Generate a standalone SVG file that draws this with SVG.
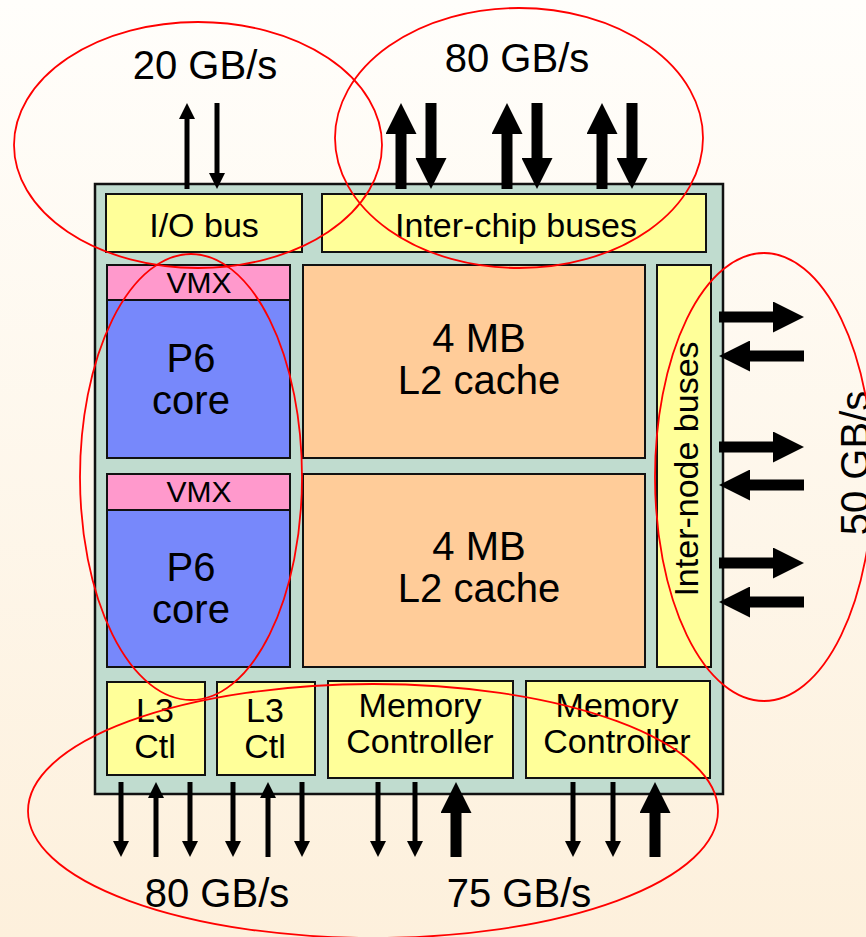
<svg xmlns="http://www.w3.org/2000/svg" width="866" height="937" viewBox="0 0 866 937">
<defs>
<linearGradient id="bg" x1="0" y1="0" x2="0" y2="1">
<stop offset="0" stop-color="#fffefb"/>
<stop offset="1" stop-color="#fdf0dc"/>
</linearGradient>
<marker id="hs" markerUnits="userSpaceOnUse" markerWidth="16" markerHeight="16" refX="1" refY="8" orient="auto" viewBox="0 0 16 16">
<path d="M0,0 L16,8 L0,16 Z" fill="#000"/>
</marker>
<marker id="hb" markerUnits="userSpaceOnUse" markerWidth="31" markerHeight="31" refX="1" refY="15.5" orient="auto" viewBox="0 0 31 31">
<path d="M0,0 L31,15.5 L0,31 Z" fill="#000"/>
</marker>
</defs>
<style>
text{font-family:"Liberation Sans",Arial,sans-serif;fill:#000;text-anchor:middle}
.t40{font-size:40px}
.t34{font-size:34px}
.t30{font-size:30px}
.box{stroke:#111;stroke-width:2}
.y{fill:#ffff99}
.pk{fill:#ff99cc}
.bl{fill:#7788fb}
.or{fill:#ffcc99}
.thin{stroke:#000;stroke-width:5;marker-end:url(#hs)}
.thick{stroke:#000;stroke-width:11;marker-end:url(#hb)}
.ring{fill:none;stroke:#ff0000;stroke-width:1.8}
</style>
<rect x="0" y="0" width="866" height="937" fill="url(#bg)"/>

<g id="chip"><rect x="95" y="184" width="628" height="610" fill="#c0dccf" stroke="#111" stroke-width="2.5"/></g>

<g id="io-bus"><rect class="box y" x="106" y="194" width="196" height="58"/><text class="t34" x="204" y="237">I/O bus</text></g>
<g id="inter-chip"><rect class="box y" x="322" y="194" width="384" height="58"/><text class="t34" x="516" y="237">Inter-chip buses</text></g>

<g id="vmx1"><rect class="box pk" x="107" y="265" width="183" height="35"/><text class="t30" x="199" y="293">VMX</text></g>
<g id="core1"><rect class="box bl" x="107" y="300" width="183" height="158"/><text class="t40" x="191" y="372">P6</text><text class="t40" x="191" y="414">core</text></g>
<g id="l2-1"><rect class="box or" x="303" y="265" width="342" height="193"/><text class="t40" x="479" y="352">4 MB</text><text class="t40" x="479" y="394">L2 cache</text></g>

<g id="vmx2"><rect class="box pk" x="107" y="474" width="183" height="36"/><text class="t30" x="199" y="502">VMX</text></g>
<g id="core2"><rect class="box bl" x="107" y="510" width="183" height="157"/><text class="t40" x="191" y="581">P6</text><text class="t40" x="191" y="623">core</text></g>
<g id="l2-2"><rect class="box or" x="303" y="474" width="342" height="193"/><text class="t40" x="479" y="560">4 MB</text><text class="t40" x="479" y="602">L2 cache</text></g>

<g id="inter-node"><rect class="box y" x="657" y="265" width="54" height="402"/><text class="t34" transform="translate(698,469) rotate(-90)">Inter-node buses</text></g>

<g id="l3-1"><rect class="box y" x="107" y="682" width="98" height="93"/><text class="t34" x="155" y="722">L3</text><text class="t34" x="155" y="758">Ctl</text></g>
<g id="l3-2"><rect class="box y" x="217" y="682" width="98" height="93"/><text class="t34" x="265" y="722">L3</text><text class="t34" x="265" y="758">Ctl</text></g>
<g id="mem1"><rect class="box y" x="328" y="681" width="185" height="97"/><text class="t34" x="420" y="717">Memory</text><text class="t34" x="420" y="753">Controller</text></g>
<g id="mem2"><rect class="box y" x="526" y="681" width="184" height="97"/><text class="t34" x="617" y="717">Memory</text><text class="t34" x="617" y="753">Controller</text></g>

<g id="connectors">
<line class="thin" x1="187" y1="189" x2="187" y2="118"/>
<line class="thin" x1="217" y1="103" x2="217" y2="174"/>
<line class="thick" x1="401" y1="189" x2="401" y2="133"/>
<line class="thick" x1="431" y1="103" x2="431" y2="159"/>
<line class="thick" x1="507" y1="189" x2="507" y2="133"/>
<line class="thick" x1="537" y1="103" x2="537" y2="159"/>
<line class="thick" x1="602" y1="189" x2="602" y2="133"/>
<line class="thick" x1="632" y1="103" x2="632" y2="159"/>
<line class="thick" x1="719" y1="317" x2="774" y2="317"/>
<line class="thick" x1="804" y1="356" x2="749" y2="356"/>
<line class="thick" x1="719" y1="447" x2="774" y2="447"/>
<line class="thick" x1="804" y1="485" x2="749" y2="485"/>
<line class="thick" x1="719" y1="563" x2="774" y2="563"/>
<line class="thick" x1="804" y1="602" x2="749" y2="602"/>
<line class="thin" x1="121" y1="782" x2="121" y2="842"/>
<line class="thin" x1="156" y1="857" x2="156" y2="797"/>
<line class="thin" x1="190" y1="782" x2="190" y2="842"/>
<line class="thin" x1="233" y1="782" x2="233" y2="842"/>
<line class="thin" x1="268" y1="857" x2="268" y2="797"/>
<line class="thin" x1="302" y1="782" x2="302" y2="842"/>
<line class="thin" x1="378" y1="782" x2="378" y2="842"/>
<line class="thin" x1="415" y1="782" x2="415" y2="842"/>
<line class="thick" x1="456" y1="857" x2="456" y2="812"/>
<line class="thin" x1="573" y1="782" x2="573" y2="842"/>
<line class="thin" x1="613" y1="782" x2="613" y2="842"/>
<line class="thick" x1="655" y1="857" x2="655" y2="812"/>
</g>

<g id="labels">
<text class="t40" x="205" y="79">20 GB/s</text>
<text class="t40" x="517" y="72">80 GB/s</text>
<text class="t40" x="217" y="907">80 GB/s</text>
<text class="t40" x="519" y="907">75 GB/s</text>
<text class="t40" transform="translate(869,463) rotate(-90)">50 GB/s</text>
</g>

<g id="rings">
<ellipse class="ring" cx="198" cy="145" rx="184" ry="123"/>
<ellipse class="ring" cx="519" cy="138" rx="184" ry="130"/>
<ellipse class="ring" cx="191" cy="477" rx="111" ry="223"/>
<ellipse class="ring" cx="764" cy="477" rx="109" ry="224"/>
<ellipse class="ring" cx="373" cy="811" rx="345" ry="127"/>
</g>
</svg>
